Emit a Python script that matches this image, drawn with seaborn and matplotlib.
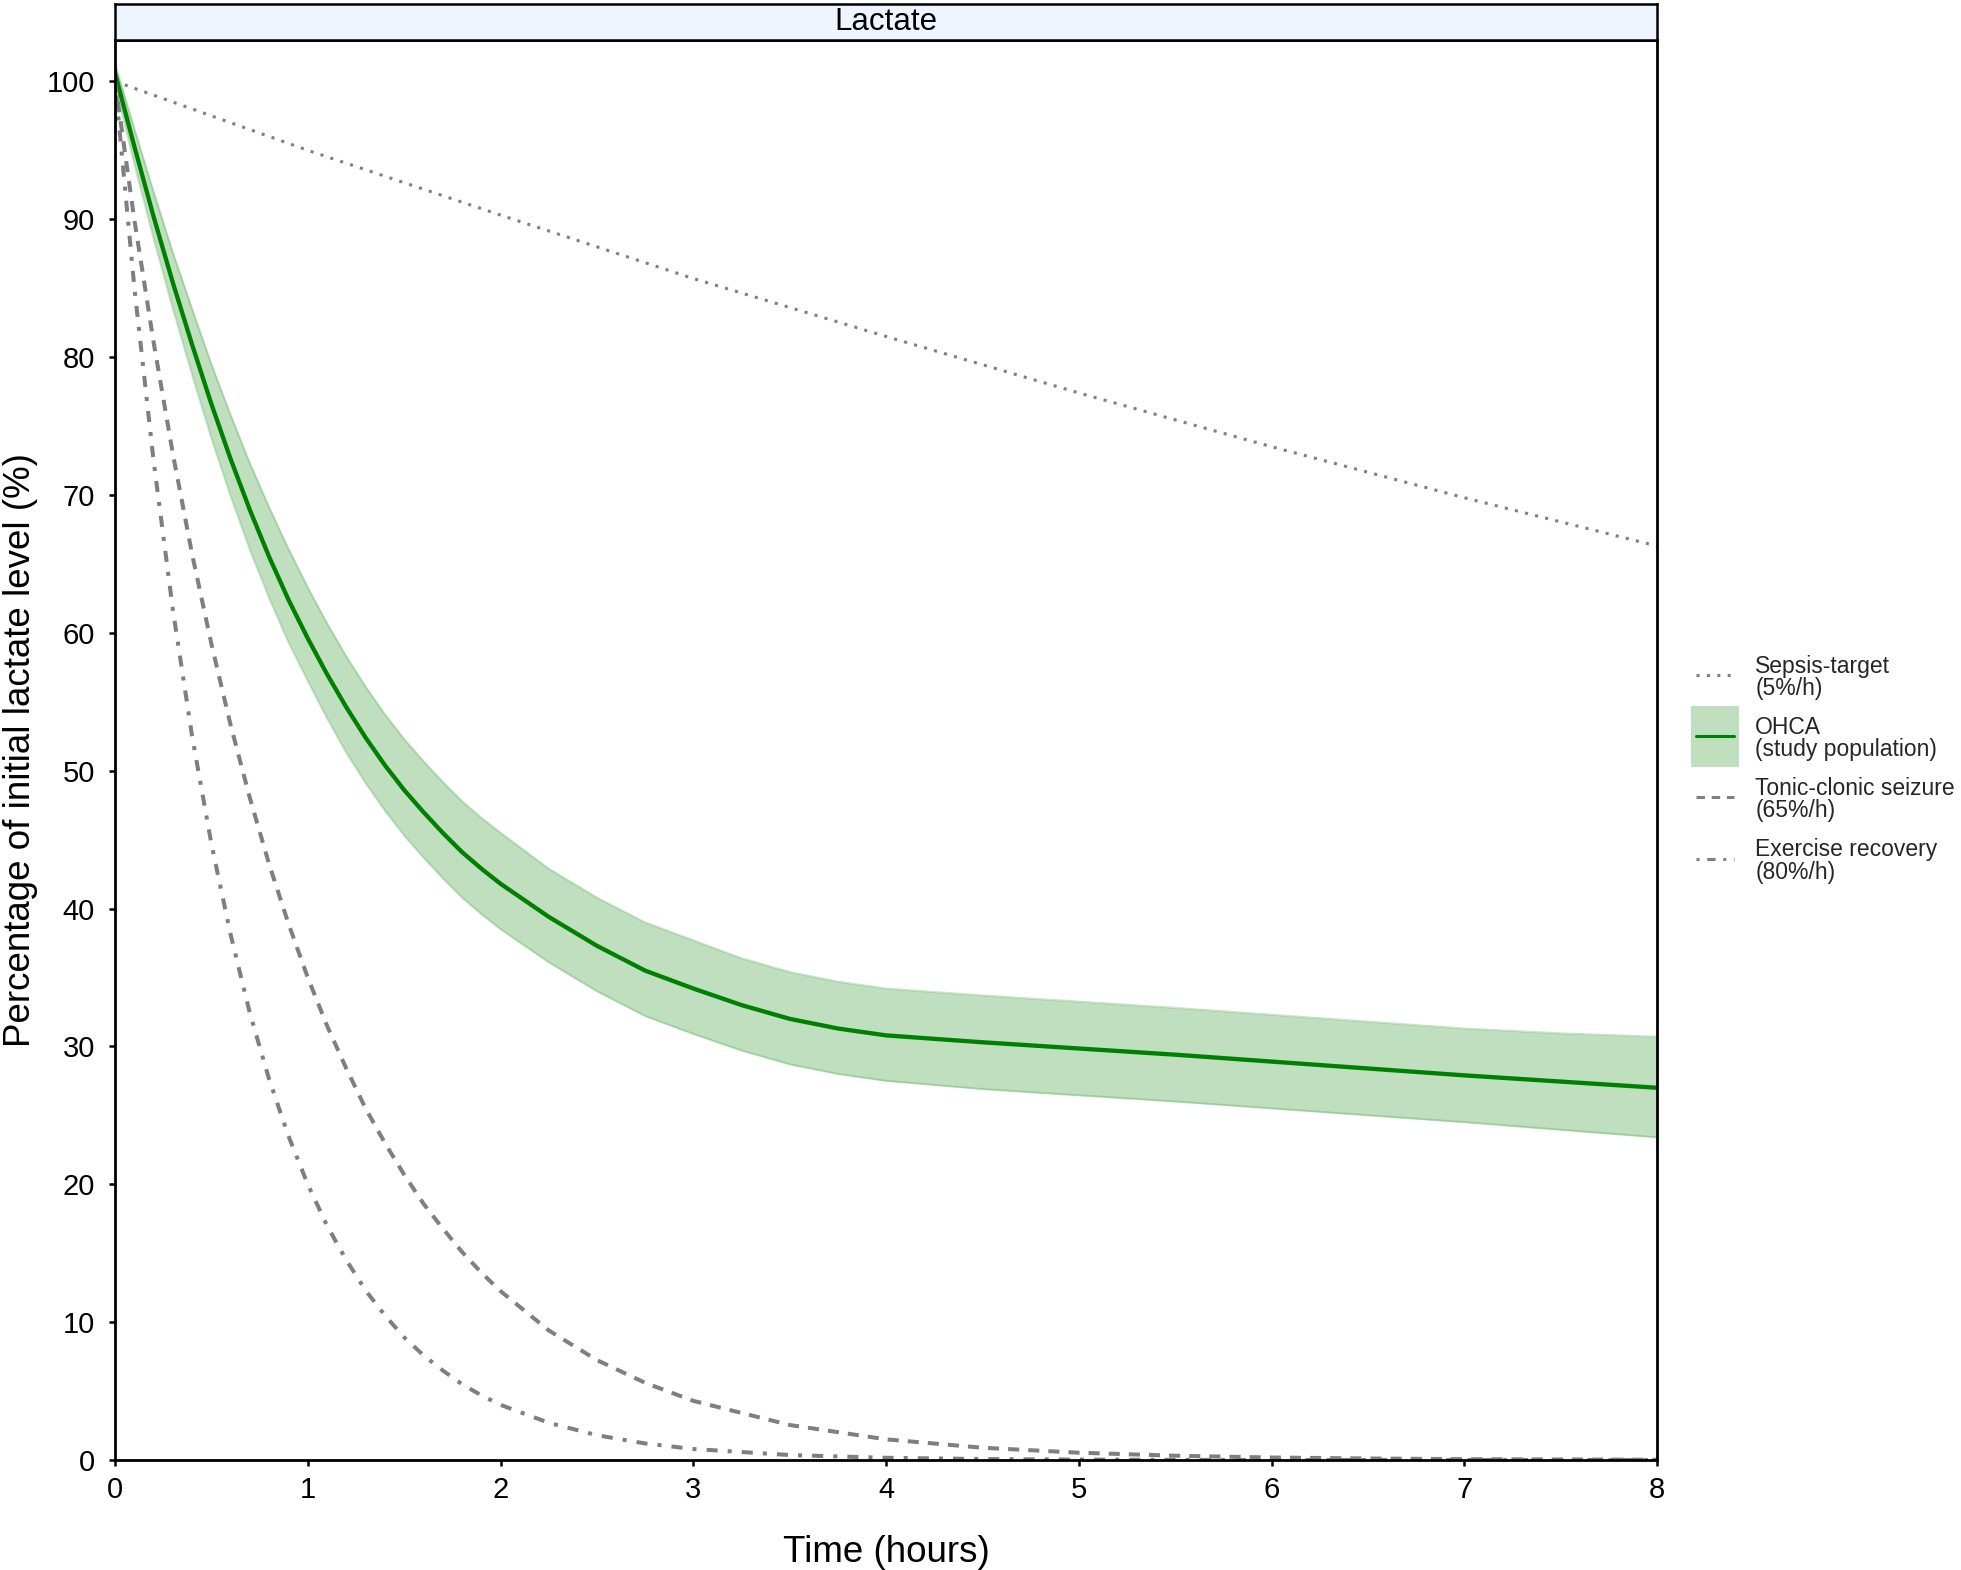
import numpy as np
import pandas as pd
import matplotlib
matplotlib.use("Agg")
import matplotlib.pyplot as plt
from matplotlib.patches import Rectangle
from matplotlib.lines import Line2D
from matplotlib.legend_handler import HandlerBase
import seaborn as sns

# values
time_ohca = [0, 0.1, 0.2, 0.3, 0.4, 0.5, 0.6, 0.7, 0.8, 0.9, 1.0, 1.1, 1.2, 1.3, 1.4,
             1.5, 1.6, 1.7, 1.8, 1.9, 2.0, 2.25, 2.5, 2.75, 3.0, 3.25, 3.5, 3.75, 4.0,
             4.5, 5.0, 5.5, 6.0, 6.5, 7.0, 7.5, 8.0]
ohca_mean = [100.6, 95.3, 90.2, 85.4, 80.9, 76.6, 72.6, 68.9, 65.5, 62.4, 59.6, 57.0,
             54.6, 52.4, 50.4, 48.6, 47.0, 45.5, 44.1, 42.9, 41.8, 39.4, 37.3, 35.5,
             34.2, 33.0, 32.0, 31.3, 30.8, 30.3, 29.85, 29.4, 28.9, 28.4, 27.9, 27.45, 27.0]
ohca_upper = [101.3, 96.6, 92.0, 87.6, 83.5, 79.5, 75.8, 72.3, 69.1, 66.1, 63.3, 60.7,
              58.3, 56.1, 54.1, 52.3, 50.7, 49.2, 47.8, 46.6, 45.5, 42.9, 40.8, 39.0,
              37.7, 36.4, 35.4, 34.7, 34.2, 33.7, 33.25, 32.8, 32.3, 31.8, 31.3, 30.95, 30.7]
ohca_lower = [99.8, 94.0, 88.6, 83.5, 78.7, 74.1, 69.9, 66.0, 62.5, 59.3, 56.5, 53.8,
              51.3, 49.1, 47.1, 45.3, 43.7, 42.2, 40.8, 39.6, 38.5, 36.1, 34.0, 32.2,
              30.9, 29.7, 28.7, 28.0, 27.5, 26.9, 26.45, 26.0, 25.5, 25.0, 24.5, 23.95, 23.4]

time_ref = [0, 0.1, 0.2, 0.3, 0.4, 0.5, 0.6, 0.7, 0.8, 0.9, 1.0, 1.1, 1.2, 1.3, 1.4,
            1.5, 1.6, 1.7, 1.8, 1.9, 2.0, 2.25, 2.5, 2.75, 3.0, 3.5, 4.0, 4.5, 5.0,
            5.5, 6.0, 6.5, 7.0, 7.5, 8.0]
seizure = [100, 90.0, 81.1, 73.0, 65.7, 59.2, 53.3, 48.0, 43.2, 38.9, 35.0, 31.5, 28.4,
           25.5, 23.0, 20.7, 18.6, 16.8, 15.1, 13.6, 12.25, 9.4, 7.25, 5.6, 4.29, 2.54,
           1.5, 0.89, 0.53, 0.31, 0.18, 0.11, 0.06, 0.04, 0.02]
exercise = [100, 85.1, 72.5, 61.7, 52.5, 44.7, 38.1, 32.4, 27.6, 23.5, 20.0, 17.0, 14.5,
            12.3, 10.5, 8.9, 7.6, 6.5, 5.5, 4.7, 4.0, 2.7, 1.8, 1.2, 0.8, 0.36, 0.16,
            0.07, 0.03, 0.01, 0.0, 0.0, 0.0, 0.0, 0.0]

time_sepsis = [0, 1, 2, 3, 4, 5, 6, 7, 8]
sepsis = [100, 95.0, 90.3, 85.7, 81.5, 77.4, 73.5, 69.8, 66.3]

labels = ["Sepsis-target\n(5%/h)", "OHCA\n(study population)",
          "Tonic-clonic seizure\n(65%/h)", "Exercise recovery\n(80%/h)"]

sns.set_theme(style="white")
plt.rcParams["font.family"] = ["Liberation Sans", "DejaVu Sans"]

green = "#008000"
grey = "#7f7f7f"
dot_ls = (0, (1, 2.4))
dash_ls = (0, (2.75, 2.25))
dotdash_ls = (0, (1, 2.5, 2.75, 2.5))

W, H = 1961, 1570
fig = plt.figure(figsize=(W / 100, H / 100), dpi=100)
left, right, bottom, top = 115 / W, 1657 / W, 1 - 1460 / H, 1 - 40 / H
ax = fig.add_axes([left, bottom, right - left, top - bottom])

df_ohca = pd.DataFrame({"t": time_ohca, "m": ohca_mean, "lo": ohca_lower, "hi": ohca_upper})
df_ref = pd.DataFrame({"t": time_ref, "seizure": seizure, "exercise": exercise})
df_sep = pd.DataFrame({"t": time_sepsis, "v": sepsis})

sns.lineplot(data=df_sep, x="t", y="v", ax=ax, color=grey, linewidth=2.2,
             linestyle=dot_ls)
ax.fill_between(df_ohca["t"], df_ohca["lo"], df_ohca["hi"], color=green, alpha=0.25,
                linewidth=0)
sns.lineplot(data=df_ohca, x="t", y="hi", ax=ax, color=green, alpha=0.2, linewidth=1.5)
sns.lineplot(data=df_ohca, x="t", y="lo", ax=ax, color=green, alpha=0.2, linewidth=1.5)
sns.lineplot(data=df_ohca, x="t", y="m", ax=ax, color=green, linewidth=3.1)
sns.lineplot(data=df_ref, x="t", y="seizure", ax=ax, color=grey, linewidth=2.9,
             linestyle=dash_ls)
sns.lineplot(data=df_ref, x="t", y="exercise", ax=ax, color=grey, linewidth=2.9,
             linestyle=dotdash_ls)

ax.set_xlim(0, 8)
ax.set_ylim(0, 103)
ax.set_xticks(range(0, 9))
ax.set_yticks(range(0, 101, 10))
ax.tick_params(axis="both", which="both", direction="out", length=4.5, width=1.8,
               color="black", labelsize=21, labelcolor="black", left=True, bottom=True)
ax.tick_params(axis="x", pad=7)
ax.tick_params(axis="y", pad=10)
for s in ["left", "bottom", "right", "top"]:
    ax.spines[s].set_visible(True)
    ax.spines[s].set_color("black")
    ax.spines[s].set_linewidth(2.0)
ax.set_xlabel("Time (hours)", fontsize=26.5, color="black", labelpad=22)
ax.set_ylabel("Percentage of initial lactate level (%)", fontsize=26.5, color="black",
              labelpad=6)
ax.set_facecolor("white")

# facet strip
strip = fig.add_axes([left, top, right - left, 36 / H])
strip.set_facecolor("#eef5ff")
strip.set_xticks([])
strip.set_yticks([])
for s in strip.spines.values():
    s.set_color("black")
    s.set_linewidth(1.8)
strip.text(0.5, 0.5, "Lactate", ha="center", va="center", fontsize=22.5, color="black",
           transform=strip.transAxes)


# legend keys centred on the two-line labels, like ggplot keys
class KeyHandler(HandlerBase):
    def __init__(self, band=False):
        super().__init__()
        self.band = band

    def create_artists(self, legend, orig_handle, xdescent, ydescent, width, height,
                       fontsize, trans):
        yc = 0.5 * fontsize
        arts = []
        if self.band:
            arts.append(Rectangle((-xdescent, yc - 22), width, 44, facecolor=green,
                                  alpha=0.25, edgecolor="none", transform=trans))
        ln = Line2D([], [])
        ln.update_from(orig_handle)
        ln.set_data([-xdescent + 0.1 * width, -xdescent + 0.9 * width], [yc, yc])
        ln.set_transform(trans)
        arts.append(ln)
        return arts


h_sep = Line2D([], [], color=grey, linewidth=2.2, linestyle=dot_ls)
h_ohca = Line2D([], [], color=green, linewidth=2.2)
h_sz = Line2D([], [], color=grey, linewidth=2.2, linestyle=dash_ls)
h_ex = Line2D([], [], color=grey, linewidth=2.2, linestyle=dotdash_ls)
leg = fig.legend([h_sep, h_ohca, h_sz, h_ex], labels, loc="upper left",
                 bbox_to_anchor=(1691 / W, 1 - 655 / H), frameon=False, fontsize=16.5,
                 handlelength=2.1, handleheight=0.7, handletextpad=0.7,
                 labelspacing=0.70, borderpad=0, borderaxespad=0,
                 handler_map={h_sep: KeyHandler(), h_ohca: KeyHandler(band=True),
                              h_sz: KeyHandler(), h_ex: KeyHandler()})
for t in leg.get_texts():
    t.set_linespacing(0.95)

fig.savefig("out.png", dpi=100, facecolor="white")
